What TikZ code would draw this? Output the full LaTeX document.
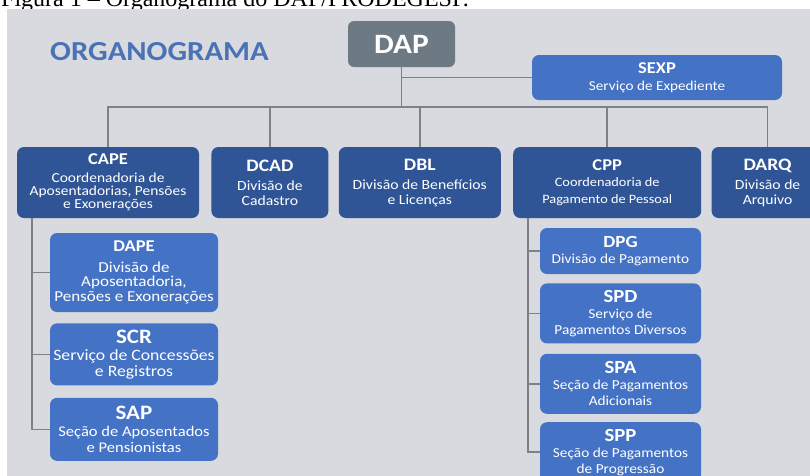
\documentclass[tikz,border=0pt]{standalone}
\usepackage{fontspec}
\setmainfont{Carlito}[FakeStretch=1.12]
\newfontfamily\capfont{Liberation Serif}
\usetikzlibrary{positioning}
\definecolor{bggrey}{HTML}{D8DADF}
\definecolor{dapgrey}{HTML}{6E7A83}
\definecolor{navyblue}{HTML}{2F5597}
\definecolor{brightblue}{HTML}{4472C4}
\definecolor{orgblue}{HTML}{4A73B5}
\definecolor{wiregrey}{HTML}{7F8186}
\lineskiplimit=-20pt
\newcommand{\hd}[2]{{\fontsize{#1}{#1}\selectfont\bfseries #2}}
\tikzset{
  capline/.style  = {anchor=base west, inner sep=0pt, font=\capfont\fontsize{24}{24}\selectfont},
  titletext/.style= {anchor=base west, inner sep=0pt, text=orgblue, font=\bfseries\fontsize{27.5}{27.5}\selectfont},
  dapbox/.style   = {rounded corners=6pt, fill=dapgrey, text=white, align=center, inner sep=0pt,
                     font=\bfseries\fontsize{28}{28}\selectfont},
  lvltwo/.style   = {rounded corners=7pt, fill=navyblue, text=white, align=center, inner sep=0pt,
                     minimum height=71pt, font=\fontsize{14}{15}\selectfont},
  lvlthree/.style = {rounded corners=7pt, fill=brightblue, text=white, align=center, inner sep=0pt},
  leftsub/.style  = {lvlthree, minimum width=168pt},
  rightsub/.style = {lvlthree, minimum width=161pt, minimum height=60pt, font=\fontsize{13.7}{16}\selectfont},
  wire/.style     = {draw=wiregrey, line width=1.6pt},
}

\begin{document}
\begin{tikzpicture}[x=1pt,y=-1pt]
  \useasboundingbox (0,0) rectangle (810,475);
  \clip (0,0) rectangle (810,475);
  % caption and panel
  \node[capline] (caption) at (1,6) {Figura 1 – Organograma do DAP/PRODEGESP.};
  \fill[bggrey] (7,9) rectangle (820,480);
  \node[titletext] (title) at (50,60) {ORGANOGRAMA};

  % top
  \node[dapbox, minimum width=107pt, minimum height=46pt] (dap) at (401.5,44) {DAP};
  \node[lvlthree, minimum width=250pt, minimum height=45pt, font=\fontsize{13.6}{17}\selectfont] (sexp) at (657,77.5)
    {\hd{16.5}{SEXP}\\ Serviço de Expediente};

  % second level
  \node[lvltwo, minimum width=182pt, font=\fontsize{13.8}{13.3}\selectfont] (cape) at (108,182.5)
    {\hd{16.5}{CAPE}\\[4.5pt] Coordenadoria de\\ Aposentadorias, Pensões\\ e Exonerações};
  \node[lvltwo, right=12pt of cape, minimum width=117pt] (dcad) {\hd{17.5}{DCAD}\\[4pt] Divisão de\\ Cadastro};
  \node[lvltwo, right=10pt of dcad, minimum width=162pt] (dbl) {\hd{17.5}{DBL}\\[4pt] Divisão de Benefícios\\ e Licenças};
  \node[lvltwo, right=12pt of dbl, minimum width=188pt, font=\fontsize{12.8}{16.5}\selectfont] (cpp)
    {\hd{16.5}{CPP}\\ Coordenadoria de\\ Pagamento de Pessoal};
  \node[lvltwo, right=10pt of cpp, minimum width=112pt] (darq) {\hd{17.5}{DARQ}\\[4pt] Divisão de\\ Arquivo};

  % third level, left
  \node[leftsub, minimum height=79pt, font=\fontsize{15.2}{14.5}\selectfont] (dape) at (134,272.5)
    {\hd{16.5}{DAPE}\\[6pt] Divisão de\\ Aposentadoria,\\ Pensões e Exonerações};
  \node[leftsub, below=11pt of dape, minimum height=62pt, font=\fontsize{15.8}{16}\selectfont] (scr)
    {\hd{20.5}{SCR}\\[1pt] Serviço de Concessões\\ e Registros};
  \node[leftsub, below=12pt of scr, minimum height=63pt, font=\fontsize{14.8}{16}\selectfont] (sap)
    {\hd{20.5}{SAP}\\[1pt] Seção de Aposentados\\ e Pensionistas};

  % third level, right
  \node[rightsub, minimum height=46pt] (dpg) at (620.5,251) {\hd{17}{DPG}\\ Divisão de Pagamento};
  \node[rightsub, below=9pt of dpg] (spd) {\hd{18.5}{SPD}\\ Serviço de\\ Pagamentos Diversos};
  \node[rightsub, below=10pt of spd] (spa) {\hd{18.5}{SPA}\\ Seção de Pagamentos\\ Adicionais};
  \node[rightsub, below=8pt of spa] (spp) {\hd{18.5}{SPP}\\ Seção de Pagamentos\\ de Progressão};

  % connectors
  \coordinate (bus) at (0,107);
  \coordinate (lspine) at (32,0);
  \coordinate (rspine) at (528,0);
  \draw[wire] (dap.south) -- (dap.south |- bus);
  \draw[wire] (dap.south |- sexp.west) -- (sexp.west);
  \draw[wire] (cape.north) -- (cape.north |- bus) -- (darq.north |- bus) -- (darq.north);
  \foreach \n in {dcad,dbl,cpp} \draw[wire] (\n.north) -- (\n.north |- bus);
  \draw[wire] (cape.south -| lspine) |- (sap.west);
  \foreach \n in {dape,scr} \draw[wire] (\n.west -| lspine) -- (\n.west);
  \draw[wire] (cpp.south -| rspine) |- (spp.west);
  \foreach \n in {dpg,spd,spa} \draw[wire] (\n.west -| rspine) -- (\n.west);
\end{tikzpicture}
\end{document}
